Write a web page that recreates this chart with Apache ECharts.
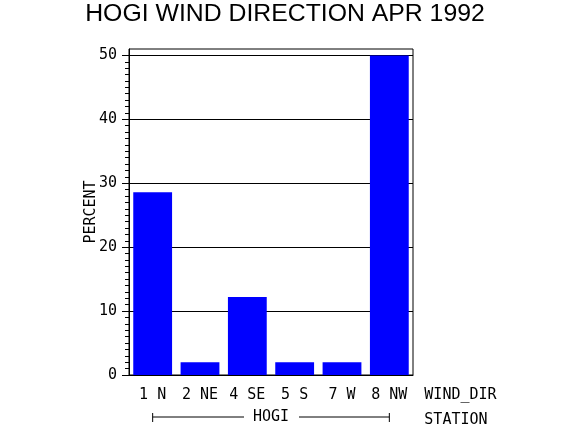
<!DOCTYPE html>
<html>
<head>
<meta charset="utf-8">
<script src="https://cdn.jsdelivr.net/npm/echarts@6/dist/echarts.min.js"></script>
<style>html,body{margin:0;padding:0;background:#fff;}#c{width:570px;height:430px;}</style>
</head>
<body>
<div id="c"></div>
<script>
var categories = ['1 N', '2 NE', '4 SE', '5 S', '7 W', '8 NW'];
var percentValues = [28.6, 2.0, 12.2, 2.0, 2.0, 50.0];
var majorTicks = [0, 10, 20, 30, 40, 50];
var minorTicks = [];
for (var i = 0; i <= 50; i++) { if (i % 10 !== 0) minorTicks.push(i); }
var stationLabel = 'HOGI';

var mono = 'DejaVu Sans Mono';
var chart = echarts.init(document.getElementById('c'), null, {renderer: 'canvas'});
var option = {
  animation: false,
  backgroundColor: '#ffffff',
  title: {
    text: 'HOGI WIND DIRECTION APR 1992',
    left: 'center',
    top: -3,
    textStyle: {fontFamily: 'Liberation Sans', fontWeight: 'normal', fontSize: 24.8, color: '#000'}
  },
  grid: {left: 129, right: 157, top: 49, bottom: 55, show: true, borderColor: '#000', borderWidth: 1, backgroundColor: 'transparent'},
  xAxis: {
    type: 'category',
    data: categories,
    axisLine: {lineStyle: {color: '#000', width: 1}},
    axisTick: {show: false},
    axisLabel: {color: '#000', fontFamily: mono, fontSize: 15, margin: 13},
    splitLine: {show: false}
  },
  yAxis: [{
    type: 'value',
    min: 0, max: 51,
    name: 'PERCENT',
    nameLocation: 'middle',
    nameRotate: 90,
    nameGap: 30,
    nameMoveOverlap: false,
    nameTextStyle: {color: '#000', fontFamily: mono, fontSize: 15},
    axisLine: {show: true, lineStyle: {color: '#000', width: 1}},
    axisTick: {show: true, length: 7, customValues: majorTicks, lineStyle: {color: '#000'}},
    axisLabel: {color: '#000', fontFamily: mono, fontSize: 15, margin: 12, customValues: majorTicks},
    splitLine: {show: true, lineStyle: {color: '#000', width: 1}}
  }, {
    type: 'value',
    min: 0, max: 51,
    position: 'left',
    axisLine: {show: false},
    axisTick: {show: true, length: 4, customValues: minorTicks, lineStyle: {color: '#000'}},
    axisLabel: {show: false},
    splitLine: {show: false}
  }],
  series: [{
    type: 'bar',
    data: percentValues,
    yAxisIndex: 0,
    barCategoryGap: '18%',
    itemStyle: {color: '#0000ff'}
  }]
};
chart.setOption(option);

var x1 = chart.convertToPixel({xAxisIndex: 0}, categories[0]);
var x2 = chart.convertToPixel({xAxisIndex: 0}, categories[categories.length - 1]);
var y0 = chart.convertToPixel({yAxisIndex: 0}, 0);
var mid = (x1 + x2) / 2;
var by = y0 + 42;
var right = x2 + 35;
var lineStyle = {stroke: '#000', lineWidth: 1};
chart.setOption({
  graphic: [
    {type: 'line', shape: {x1: x1, y1: by, x2: mid - 27, y2: by}, style: lineStyle},
    {type: 'line', shape: {x1: mid + 28, y1: by, x2: x2, y2: by}, style: lineStyle},
    {type: 'line', shape: {x1: x1, y1: by - 4, x2: x1, y2: by + 5}, style: lineStyle},
    {type: 'line', shape: {x1: x2, y1: by - 4, x2: x2, y2: by + 5}, style: lineStyle},
    {type: 'text', x: mid, y: by, style: {text: stationLabel, fill: '#000', font: '15px "DejaVu Sans Mono"', textAlign: 'center', textVerticalAlign: 'middle'}},
    {type: 'text', x: right, y: y0 + 20, style: {text: 'WIND_DIR', fill: '#000', font: '15px "DejaVu Sans Mono"', textAlign: 'left', textVerticalAlign: 'middle'}},
    {type: 'text', x: right, y: by + 3, style: {text: 'STATION', fill: '#000', font: '15px "DejaVu Sans Mono"', textAlign: 'left', textVerticalAlign: 'middle'}}
  ]
});
</script>
</body>
</html>
